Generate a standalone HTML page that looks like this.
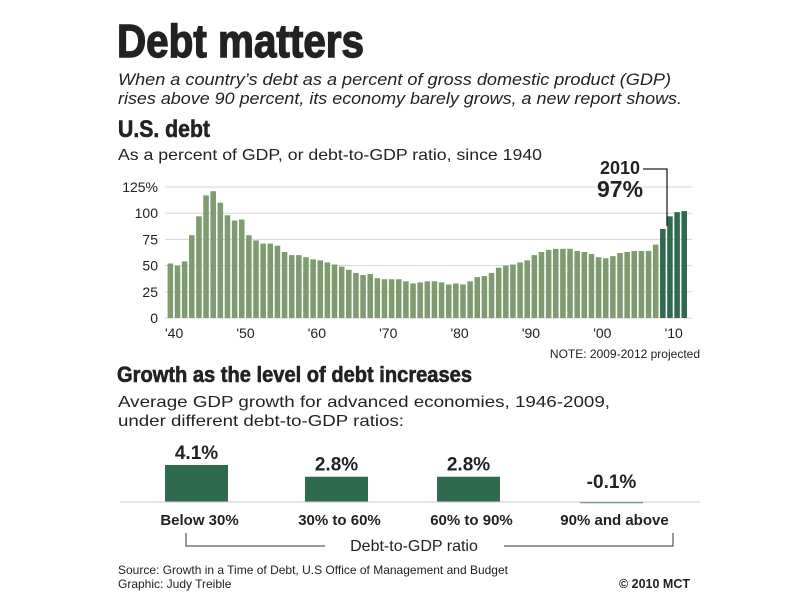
<!DOCTYPE html>
<html><head><meta charset="utf-8"><style>
html,body{margin:0;padding:0;background:#fff;}
svg{display:block;}
text{font-family:"Liberation Sans",Arial,sans-serif;fill:#222;}
.cond{font-family:"Liberation Sans Narrow","Liberation Sans",sans-serif;font-weight:bold;}
</style></head><body>
<svg id="chart" width="794" height="595" viewBox="0 0 794 595" xmlns="http://www.w3.org/2000/svg">
<text class="cond" x="117" y="57" font-size="46" stroke="#222" stroke-width="1.4" textLength="247" lengthAdjust="spacingAndGlyphs">Debt matters</text>
<text x="118" y="85" font-size="16.5" font-style="italic" textLength="553" lengthAdjust="spacingAndGlyphs">When a country’s debt as a percent of gross domestic product (GDP)</text>
<text x="118" y="104" font-size="16.5" font-style="italic" textLength="564" lengthAdjust="spacingAndGlyphs">rises above 90 percent, its economy barely grows, a new report shows.</text>
<text class="cond" x="118" y="137" font-size="24" stroke="#222" stroke-width="0.6" textLength="92" lengthAdjust="spacingAndGlyphs">U.S. debt</text>
<text x="118" y="160" font-size="16" textLength="424" lengthAdjust="spacingAndGlyphs">As a percent of GDP, or debt-to-GDP ratio, since 1940</text>
<g id="grid"></g>
<g id="bars"></g>
<g id="yaxis"></g>
<g id="xaxis"></g>
<text class="cond" x="600" y="174" font-size="18">2010</text>
<text class="cond" x="597" y="197" font-size="23">97%</text>
<polyline points="643,169 667,169 667,226" fill="none" stroke="#222" stroke-width="1.3"/>
<text x="700" y="358" font-size="12" text-anchor="end">NOTE: 2009-2012 projected</text>
<text class="cond" x="117" y="382" font-size="22" stroke="#222" stroke-width="0.6" textLength="355" lengthAdjust="spacingAndGlyphs">Growth as the level of debt increases</text>
<text x="118" y="407" font-size="16" textLength="492" lengthAdjust="spacingAndGlyphs">Average GDP growth for advanced economies, 1946-2009,</text>
<text x="118" y="426" font-size="16" textLength="286" lengthAdjust="spacingAndGlyphs">under different debt-to-GDP ratios:</text>
<g id="gbars"></g>
<line x1="120" y1="502" x2="700" y2="502" stroke="#ccc" stroke-width="1"/>
<polyline points="186,533 186,546 325,546" fill="none" stroke="#333" stroke-width="1"/>
<polyline points="504,546 673,546 673,533" fill="none" stroke="#333" stroke-width="1"/>
<text x="414" y="551" font-size="16" text-anchor="middle">Debt-to-GDP ratio</text>
<text x="118" y="574" font-size="12">Source: Growth in a Time of Debt, U.S Office of Management and Budget</text>
<text x="118" y="588" font-size="12">Graphic: Judy Treible</text>
<text x="690" y="588" font-size="12.5" font-weight="bold" text-anchor="end">© 2010 MCT</text>
</svg>
<script>
const years = [];
for (let y = 1940; y <= 2012; y++) years.push(y);
const debtValues = [52,50,54,79,97,117,121,110,98,93,94,79,74,71,71,69,63,60,60,58,56,55,53,51,49,46,43,41,42,38,37,37,37,35,33,34,35,35,34,32,33,32,35,39,40,43,48,50,51,53,55,60,63,65,66,66,66,64,63,61,58,57,59,62,63,64,64,64,70,85,97,101,102];
const yTicks = [0,25,50,75,100,125];
const yTickLabels = ["0","25","50","75","100","125%"];
const xTickYears = [1940,1950,1960,1970,1980,1990,2000,2010];
const xTickLabels = ["'40","'50","'60","'70","'80","'90","'00","'10"];
const growthCats = ["Below 30%","30% to 60%","60% to 90%","90% and above"];
const growthValues = [4.1,2.8,2.8,-0.1];
const growthLabels = ["4.1%","2.8%","2.8%","-0.1%"];

const NS = "http://www.w3.org/2000/svg";
function mk(tag, attrs, parent){const e=document.createElementNS(NS,tag);for(const k in attrs)e.setAttribute(k,attrs[k]);parent.appendChild(e);return e;}
const x0=167, step=521/73, base=318, pxPer=131/125;
const xs = y => x0 + (y-1940)*step;
const ys = v => base - v*pxPer;

const grid=document.getElementById('grid'), yax=document.getElementById('yaxis'), xax=document.getElementById('xaxis'), bars=document.getElementById('bars');
yTicks.forEach((t,i)=>{
  const l=mk('line',{x1:165,x2:692,y1:ys(t),y2:ys(t),stroke:'#d4d4d4','stroke-width':1},grid);
  
  
  const tx=mk('text',{x:158,y:ys(t)+5,'font-size':14,'text-anchor':'end'},yax);
  tx.textContent=yTickLabels[i];
  
  
});
years.forEach((yr,i)=>{
  const v=debtValues[i];
  const r=mk('rect',{x:xs(yr)+0.6,y:ys(v),width:step-1.6,height:v*pxPer,fill:yr>=2009?'#2f6a4e':'#7f9b70'},bars);
  
  
});
xTickYears.forEach((yr,i)=>{
  const tx=mk('text',{x:xs(yr)-2,y:338,'font-size':14},xax);
  tx.textContent=xTickLabels[i];
  
  
});

const g=document.getElementById('gbars');
const gx=[165,305,437,580], gw=63, gbase=502, gpx=37/4.1;
growthCats.forEach((c,i)=>{
  const v=growthValues[i];
  const h=Math.max(Math.abs(v)*gpx,1.2);
  const r=mk('rect',{x:gx[i],y:v>=0?gbase-h:gbase,width:gw,height:h,fill:'#2f6a4e'},g);
  
  
  const vt=mk('text',{x:gx[i]+gw/2,y:(v>=0?gbase-h:gbase)-6-(v<0?8:0),'font-size':19,'text-anchor':'middle',class:'cond'},g);
  vt.textContent=growthLabels[i];
  
  
  const ct=mk('text',{x:gx[i]+gw/2+3,y:525,'font-size':15,'font-weight':'bold','text-anchor':'middle'},g);
  ct.textContent=c;
  
  
});
</script>
</body></html>
